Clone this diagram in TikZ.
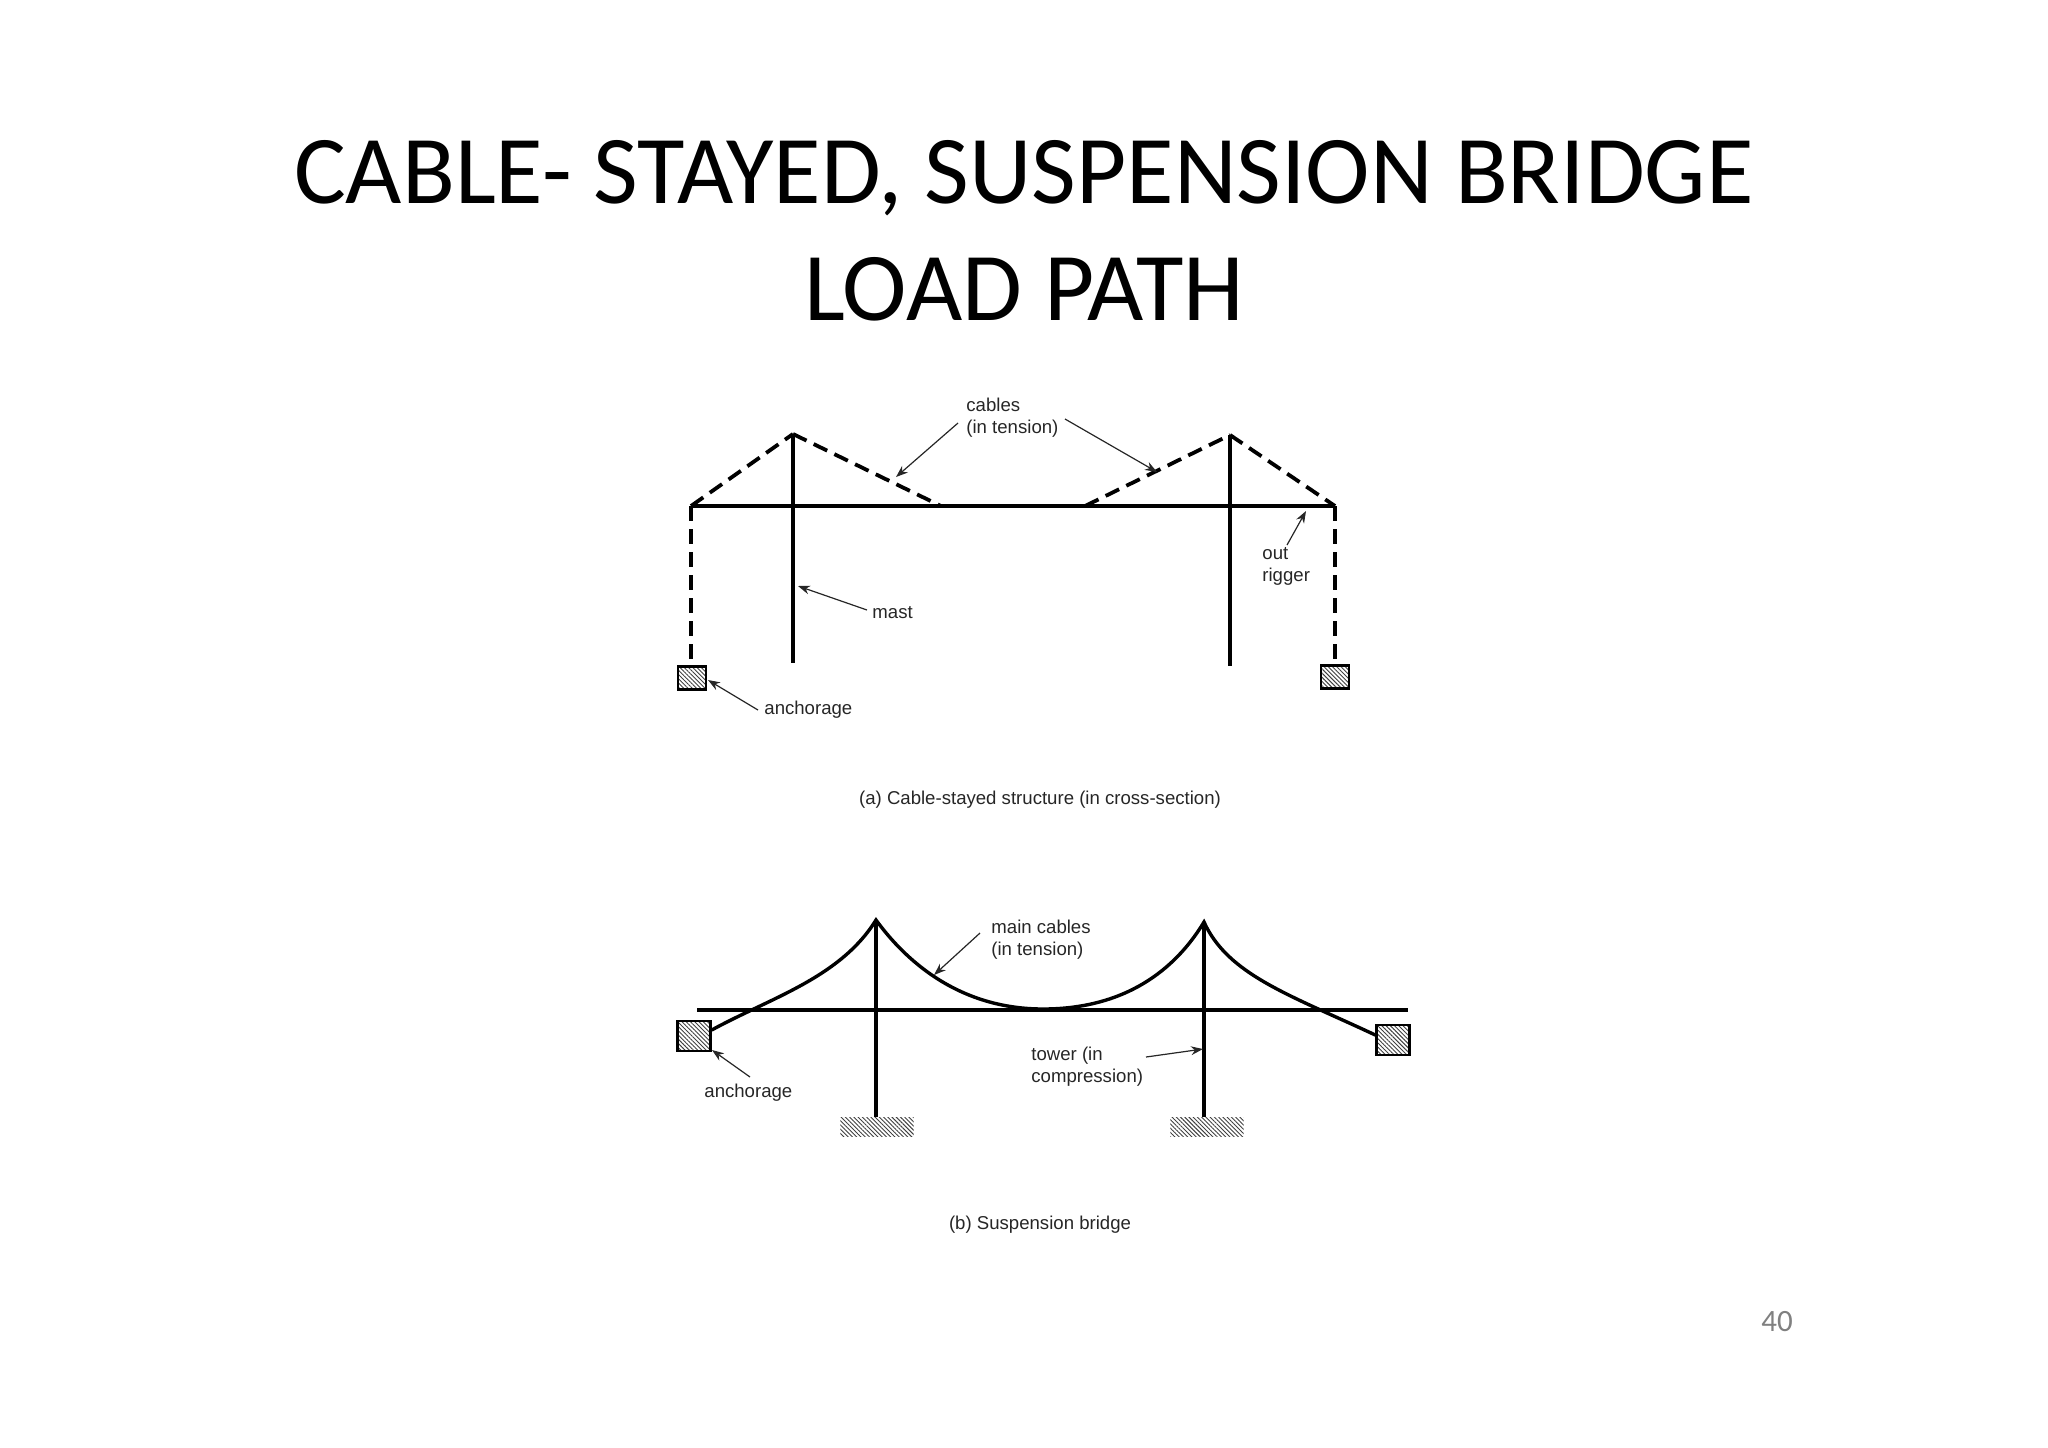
\documentclass[tikz,border=0pt]{standalone}
\usepackage{fontspec}
\setmainfont{Carlito}
\newfontfamily\labelfont{Liberation Sans}
\usetikzlibrary{arrows.meta,patterns.meta}
\definecolor{ink}{HTML}{262626}
\tikzset{
  x=0.5pt,y=-0.5pt,
  titletext/.style={inner sep=0pt,font=\fontsize{48.6}{58}\selectfont,text=black,anchor=base},
  lab/.style={inner sep=0pt,font=\labelfont\fontsize{9.3}{11}\selectfont,text=ink,align=left,anchor=base west},
  captext/.style={inner sep=0pt,font=\labelfont\fontsize{9.3}{11}\selectfont,text=ink,anchor=base},
  solidbar/.style={line width=2.1pt,black},
  thinbar/.style={line width=1.6pt,black},
  stay/.style={line width=1.9pt,black,dash pattern=on 7.5pt off 4pt},
  maincable/.style={line width=1.7pt,black},
  pointer/.style={line width=0.6pt,ink,-{Stealth[length=6pt,width=4.4pt]}},
  hatch/.style={pattern={Lines[angle=-45,distance=1.5pt,line width=0.45pt]},pattern color=black!75},
  anchorbox/.style={draw=black,line width=1.2pt,hatch,inner sep=0pt,minimum width=#1,anchor=center},
}
\begin{document}
\begin{tikzpicture}
\useasboundingbox (0,0) rectangle (2048,1447);
% title
\node[titletext] (t1) at (1024,203) {CABLE- STAYED, SUSPENSION BRIDGE};
\node[titletext] (t2) at (1024,320) {LOAD PATH};
\node[inner sep=0pt,font=\fontsize{15.5}{17}\selectfont,text=black!50,anchor=base] (pg) at (1777,1331) {40};

% --- (a) cable-stayed
\coordinate (dl) at (691,506);
\coordinate (dr) at (1335,506);
\coordinate (m1t) at (793,434);
\coordinate (m1b) at (793,663);
\coordinate (m2t) at (1230,435);
\coordinate (m2b) at (1230,666);
\coordinate (c1) at (941,506);
\coordinate (c2) at (1085,506);
\node[anchorbox=14pt,minimum height=11.5pt] (al) at (692,678) {};
\node[anchorbox=14pt,minimum height=11.5pt] (ar) at (1335,677) {};
\draw[solidbar] (dl) -- (dr);
\draw[solidbar] (m1t) -- (m1b);
\draw[solidbar] (m2t) -- (m2b);
\draw[stay] (dl) -- (m1t);
\draw[stay] (m1t) -- (c1);
\draw[stay] (c2) -- (m2t);
\draw[stay] (m2t) -- (dr);
\draw[stay] (dl) -- (al.north -| dl);
\draw[stay] (dr) -- (ar.north -| dr);

\node[lab] (lcables) at (966,433) {cables\\(in tension)};
\node[lab] (lmast) at (872,618) {mast};
\node[lab] (lanch) at (764,714) {anchorage};
\node[lab] (lout) at (1262,581) {out\\rigger};
\node[captext] (capa) at (1040,804) {(a) Cable-stayed structure (in cross-section)};

\coordinate (p1s) at (958,423); \coordinate (p1e) at (896,477);
\coordinate (p2s) at (1065,419); \coordinate (p2e) at (1157,472);
\coordinate (p3s) at (867,610); \coordinate (p3e) at (798,586);
\coordinate (p4s) at (758,710); \coordinate (p4e) at (708,680);
\coordinate (p5s) at (1287,545); \coordinate (p5e) at (1306,511);
\draw[pointer] (p1s) -- (p1e);
\draw[pointer] (p2s) -- (p2e);
\draw[pointer] (p3s) -- (p3e);
\draw[pointer] (p4s) -- (p4e);
\draw[pointer] (p5s) -- (p5e);

% --- (b) suspension
\coordinate (sl) at (697,1010);
\coordinate (sr) at (1408,1010);
\coordinate (t1t) at (876,920);
\coordinate (t2t) at (1204,922);
\node[hatch,inner sep=0pt,minimum width=36.7pt,minimum height=9.5pt] (g1) at (877,1127) {};
\node[hatch,inner sep=0pt,minimum width=36.7pt,minimum height=9.5pt] (g2) at (1207,1127) {};
\node[anchorbox=16.5pt,minimum height=15pt] (bl) at (694,1036) {};
\node[anchorbox=16.5pt,minimum height=15pt] (br) at (1393,1040) {};
\draw[thinbar] (sl) -- (sr);
\draw[thinbar] (t1t) -- (t1t |- g1.north);
\draw[thinbar] (t2t) -- (t2t |- g2.north);
\coordinate (bot) at (1043,1009);
\coordinate (bls) at ([yshift=3pt]bl.east);
\coordinate (bre) at ([yshift=2.5pt]br.west);
\draw[maincable] (bls)
  .. controls (770,998) and (840,978) .. (t1t)
  .. controls (898,950) and (950,1009) .. (bot)
  .. controls (1125,1009) and (1175,970) .. (t2t)
  .. controls (1228,975) and (1290,995) .. (bre);

\node[lab] (lmain) at (991,955) {main cables\\(in tension)};
\node[lab] (ltower) at (1031,1082) {tower (in\\compression)};
\node[lab] (lanch2) at (704,1097) {anchorage};
\node[captext] (capb) at (1040,1229) {(b) Suspension bridge};
\coordinate (q1s) at (980,933); \coordinate (q1e) at (934,975);
\coordinate (q2s) at (1146,1057); \coordinate (q2e) at (1203,1049);
\coordinate (q3s) at (750,1077); \coordinate (q3e) at (712,1050);
\draw[pointer] (q1s) -- (q1e);
\draw[pointer] (q2s) -- (q2e);
\draw[pointer] (q3s) -- (q3e);
\end{tikzpicture}
\end{document}
